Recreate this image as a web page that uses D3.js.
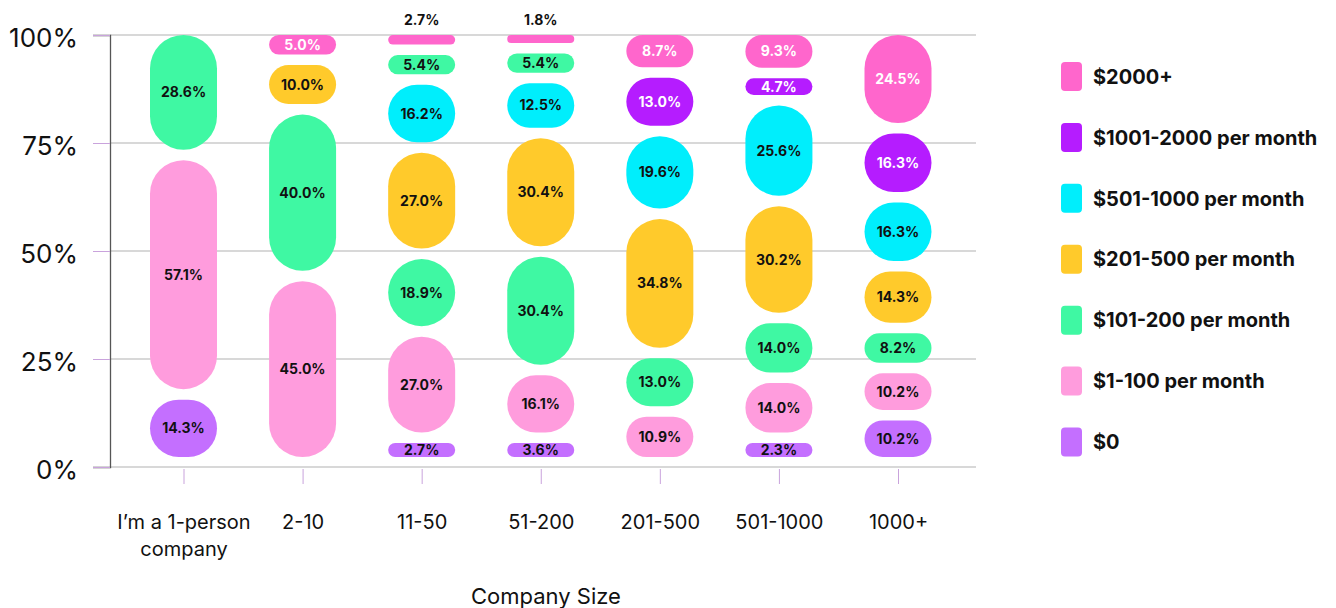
<!DOCTYPE html>
<html>
<head>
<meta charset="utf-8">
<script src="https://cdn.jsdelivr.net/npm/d3@7"></script>
<style>
  body { margin: 0; background: #fff; font-family: Inter, "Noto Sans", sans-serif; }
  svg text { font-family: Inter, "Noto Sans", sans-serif; }
</style>
</head>
<body>
<script>
// company sizes (x categories)
const companies = ["I’m a 1-person company", "2-10", "11-50", "51-200", "201-500", "501-1000", "1000+"];

// spend bands, bottom of stack first
const bands = ["$0", "$1-100 per month", "$101-200 per month", "$201-500 per month",
               "$501-1000 per month", "$1001-2000 per month", "$2000+"];

// share of respondents (%) per company size
const spend0     = [14.3, 0,    2.7,  3.6,  0,    2.3,  10.2];
const spend1_100 = [57.1, 45.0, 27.0, 16.1, 10.9, 14.0, 10.2];
const spend101   = [28.6, 40.0, 18.9, 30.4, 13.0, 14.0, 8.2];
const spend201   = [0,    10.0, 27.0, 30.4, 34.8, 30.2, 14.3];
const spend501   = [0,    0,    16.2, 12.5, 19.6, 25.6, 16.3];
const spend1001  = [0,    0,    5.4,  5.4,  13.0, 4.7,  16.3];
const spend2000  = [0,    5.0,  2.7,  1.8,  8.7,  9.3,  24.5];

const yTicks = [0, 25, 50, 75, 100];

// in the original the $1001-2000 pill of these columns is painted green
const greenPainted = ["11-50", "51-200"];

const colors = {
  "$0": "#c46fff",
  "$1-100 per month": "#ff9cdd",
  "$101-200 per month": "#3ff8a3",
  "$201-500 per month": "#ffca2b",
  "$501-1000 per month": "#00eefc",
  "$1001-2000 per month": "#b51cff",
  "$2000+": "#ff66cc"
};
const whiteText = ["$1001-2000 per month", "$2000+"];

const seriesValues = [spend0, spend1_100, spend101, spend201, spend501, spend1001, spend2000];
const rows = companies.map((c, i) => {
  const r = { company: c };
  bands.forEach((b, j) => r[b] = seriesValues[j][i]);
  return r;
});

const W = 1336, H = 608;
const svg = d3.select("body").append("svg").attr("width", W).attr("height", H);

const x = d3.scalePoint().domain(companies).range([183.5, 898]);
const y = d3.scaleLinear().domain([0, 100]).range([467, 35]).clamp(true);
const left = 110, right = 976;

// gridlines
svg.append("g").selectAll("line").data(yTicks).join("line")
  .attr("x1", left).attr("x2", right)
  .attr("y1", d => y(d)).attr("y2", d => y(d))
  .attr("stroke", "#cbcbcb").attr("stroke-width", 1.6);

// y axis
const yAxis = svg.append("g").attr("transform", `translate(${left},0)`)
  .call(d3.axisLeft(y).tickValues(yTicks).tickFormat(d => d + "%").tickSize(17).tickPadding(15));
yAxis.select(".domain").attr("stroke", "#555").attr("stroke-width", 1.3);
yAxis.selectAll(".tick line").attr("stroke", "#c9a3dc");
yAxis.selectAll(".tick text").attr("font-size", 26).attr("fill", "#111").attr("dy", "0.45em");

// x axis
const xAxis = svg.append("g").attr("transform", `translate(0,${y(0)})`)
  .call(d3.axisBottom(x).tickSize(17).tickFormat(""));
xAxis.select(".domain").remove();
xAxis.selectAll(".tick line").attr("stroke", "#c9a3dc").attr("y1", 2);
xAxis.selectAll(".tick").each(function (d) {
  const t = d3.select(this).append("text").attr("fill", "#111").attr("font-size", 20)
    .attr("text-anchor", "middle");
  const lines = d === "I’m a 1-person company" ? ["I’m a 1-person", "company"] : [d];
  lines.forEach((ln, i) => t.append("tspan").attr("x", 0).attr("y", 62 + i * 27).text(ln));
});

svg.append("text").attr("x", 546).attr("y", 604).attr("text-anchor", "middle")
  .attr("font-size", 22).attr("fill", "#111").text("Company Size");

// pills: each column's stack is laid out over the plot height, leaving a gap between pills
const pillW = 67, gap = 10.5;
const plotTop = y(100), plotBottom = y(0) - 10;

const cells = [];
rows.forEach(r => {
  const items = bands.filter(b => r[b] > 0).map(b => ({ key: b, v: r[b], company: r.company }));
  const n = items.length;
  items.forEach((it, i) => {
    it.outside = i === n - 1 && it.v < 3;
    it.minH = it.outside ? 8 : 14;
  });
  const avail = plotBottom - plotTop - (n - 1) * gap;
  const total = d3.sum(items, d => d.v);
  let k = avail / total;
  const small = items.filter(d => d.v * k < d.minH);
  if (small.length) {
    const rest = items.filter(d => d.v * k >= d.minH);
    k = (avail - d3.sum(small, d => d.minH)) / d3.sum(rest, d => d.v);
  }
  let yb = plotBottom;
  items.forEach(it => {
    const h = Math.max(it.v * k, it.minH);
    it.y1 = yb; it.y0 = yb - h;
    yb = it.y0 - gap;
    const green = it.key === "$1001-2000 per month" && greenPainted.includes(it.company);
    it.fill = green ? colors["$101-200 per month"] : colors[it.key];
    it.textFill = (!green && whiteText.includes(it.key)) ? "#fff" : "#111";
    cells.push(it);
  });
});

const g = svg.append("g");
g.selectAll("rect").data(cells).join("rect")
  .attr("x", d => x(d.company) - pillW / 2)
  .attr("width", pillW)
  .attr("y", d => d.y0)
  .attr("height", d => d.y1 - d.y0)
  .attr("rx", d => Math.min(pillW / 2, (d.y1 - d.y0) / 2))
  .attr("fill", d => d.fill);

g.selectAll("text").data(cells).join("text")
  .attr("x", d => x(d.company))
  .attr("y", d => d.outside ? 20 : (d.y0 + d.y1) / 2)
  .attr("dy", "0.36em")
  .attr("text-anchor", "middle")
  .attr("font-size", 14).attr("font-weight", 700)
  .attr("fill", d => d.outside ? "#111" : d.textFill)
  .text(d => d.v.toFixed(1) + "%");

// legend
const legend = svg.append("g").attr("transform", "translate(1061,0)");
const legendItems = bands.slice().reverse();
const ly = d3.scalePoint().domain(legendItems).range([76.5, 442]);
legend.selectAll("rect").data(legendItems).join("rect")
  .attr("x", 0).attr("y", d => ly(d) - 14.5).attr("width", 21).attr("height", 29)
  .attr("rx", 4).attr("fill", d => colors[d]);
legend.selectAll("text").data(legendItems).join("text")
  .attr("x", 32).attr("y", d => ly(d)).attr("dy", "0.36em")
  .attr("font-size", 20).attr("font-weight", 700).attr("fill", "#111")
  .text(d => d);
</script>
</body>
</html>
